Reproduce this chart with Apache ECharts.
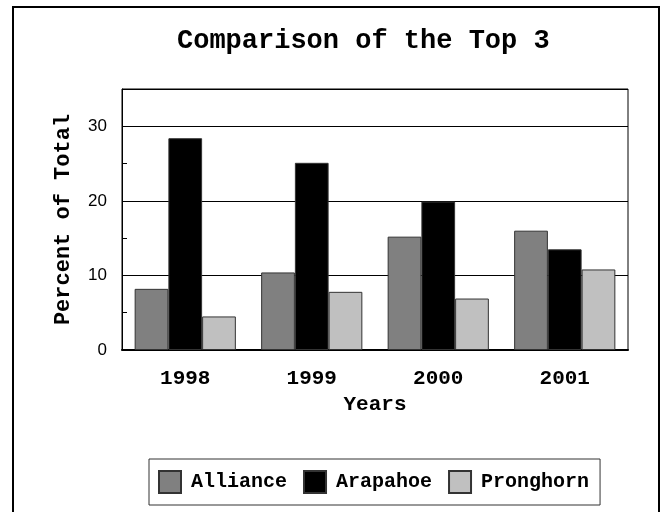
<!DOCTYPE html>
<html>
<head>
<meta charset="utf-8">
<script src="https://cdn.jsdelivr.net/npm/echarts@6/dist/echarts.min.js"></script>
<style>
  html, body { margin: 0; padding: 0; background: #fff; }
  #main { width: 663px; height: 512px; }
</style>
</head>
<body>
<div id="main"></div>
<script>
// data
var years = ['1998', '1999', '2000', '2001'];
var alliance = [8.2, 10.4, 15.2, 16.0];
var arapahoe = [28.4, 25.1, 19.9, 13.5];
var pronghorn = [4.5, 7.8, 6.9, 10.8];

var mono = '"Liberation Mono", "Courier New", monospace';
var sans = '"Liberation Sans", Arial, sans-serif';

var myChart = echarts.init(document.getElementById('main'));

function barSeries(name, data, color) {
  return {
    name: name,
    type: 'bar',
    data: data,
    barGap: 0,
    barCategoryGap: '20%',
    itemStyle: { color: color, borderColor: '#333', borderWidth: 1 }
  };
}

var option = {
  animation: false,
  backgroundColor: '#fff',
  title: {
    text: 'Comparison of the Top 3',
    left: 172,
    top: 23,
    textStyle: { fontFamily: mono, fontWeight: 'bold', fontSize: 27, color: '#000' }
  },
  graphic: [{
    type: 'rect',
    shape: { x: 13, y: 7, width: 646, height: 520 },
    style: { fill: null, stroke: '#000', lineWidth: 2 },
    silent: true
  }],
  legend: {
    left: 149,
    top: 459,
    padding: [11, 11, 11, 9],
    borderColor: '#333',
    borderWidth: 1,
    itemWidth: 22,
    itemHeight: 22,
    itemGap: 16,
    icon: 'rect',
    textStyle: { fontFamily: mono, fontWeight: 'bold', fontSize: 20, color: '#000', padding: [0, 0, 0, 5] }
  },
  grid: {
    left: 122,
    top: 89,
    width: 506,
    height: 261,
    show: true,
    borderColor: '#000',
    borderWidth: 1,
    backgroundColor: 'transparent'
  },
  xAxis: {
    type: 'category',
    data: years,
    name: 'Years',
    nameLocation: 'middle',
    nameGap: 34,
    nameTextStyle: { fontFamily: mono, fontWeight: 'bold', fontSize: 21, color: '#000' },
    axisLine: { lineStyle: { color: '#000', width: 2 } },
    axisTick: { show: false },
    axisLabel: { margin: 18, fontFamily: mono, fontWeight: 'bold', fontSize: 21, color: '#000' }
  },
  yAxis: [{
    type: 'value',
    min: 0,
    max: 35,
    interval: 10,
    name: 'Percent of Total',
    nameLocation: 'middle',
    nameRotate: 90,
    nameGap: 48,
    nameTextStyle: { fontFamily: mono, fontWeight: 'bold', fontSize: 22, color: '#000' },
    axisLine: { show: true, lineStyle: { color: '#000' } },
    axisTick: { show: false },
    axisLabel: { margin: 15, showMaxLabel: false, fontFamily: sans, fontSize: 17, color: '#000' },
    splitLine: { show: true, lineStyle: { color: '#000', width: 1 } }
  }, {
    // minor tick marks every 5
    type: 'value',
    position: 'left',
    min: 0,
    max: 35,
    interval: 5,
    axisLine: { show: false },
    axisTick: { show: true, inside: true, length: 5, lineStyle: { color: '#000' } },
    axisLabel: { show: false },
    splitLine: { show: false }
  }],
  series: [
    barSeries('Alliance', alliance, '#808080'),
    barSeries('Arapahoe', arapahoe, '#000000'),
    barSeries('Pronghorn', pronghorn, '#c0c0c0')
  ]
};

myChart.setOption(option);
</script>
</body>
</html>
